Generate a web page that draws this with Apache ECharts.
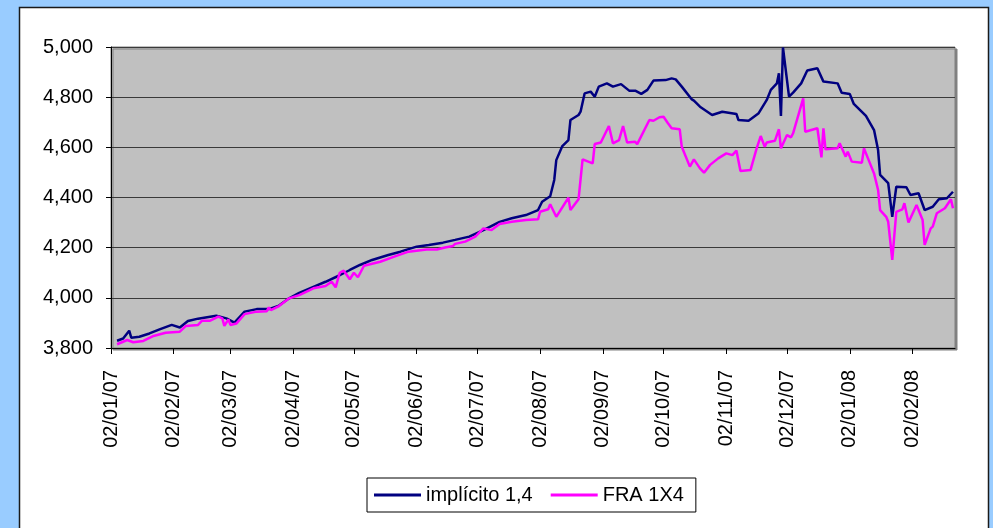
<!DOCTYPE html>
<html>
<head>
<meta charset="utf-8">
<script src="https://cdn.jsdelivr.net/npm/echarts@6/dist/echarts.min.js"></script>
<style>
  html, body { margin: 0; padding: 0; background: #99CCFF; }
  #chart { width: 993px; height: 528px; }
</style>
</head>
<body>
<div id="chart"></div>
<script>
// month ticks on the x axis (02/MM/YY)
var monthTicks = ['2007-01-02','2007-02-02','2007-03-02','2007-04-02','2007-05-02','2007-06-02',
	'2007-07-02','2007-08-02','2007-09-02','2007-10-02','2007-11-02','2007-12-02','2008-01-02','2008-02-02'];
var xStart = '2007-01-02';
var xEnd = '2008-02-23';

// implícito 1,4
var implicitoDates = ['2007-01-05','2007-01-08','2007-01-11','2007-01-12','2007-01-16','2007-01-21','2007-01-26',
	'2007-02-01','2007-02-05','2007-02-09','2007-02-14','2007-02-23','2007-02-28','2007-03-04','2007-03-09',
	'2007-03-15','2007-03-21','2007-03-26','2007-03-31','2007-04-05','2007-04-12','2007-04-18','2007-04-25',
	'2007-04-30','2007-05-05','2007-05-11','2007-05-19','2007-05-25','2007-06-02','2007-06-08','2007-06-15',
	'2007-06-21','2007-06-28','2007-07-05','2007-07-13','2007-07-19','2007-07-26','2007-08-01','2007-08-03',
	'2007-08-07','2007-08-09','2007-08-10','2007-08-13','2007-08-16','2007-08-17','2007-08-21','2007-08-22',
	'2007-08-24','2007-08-27','2007-08-29','2007-08-31','2007-09-04','2007-09-07','2007-09-11','2007-09-15',
	'2007-09-18','2007-09-21','2007-09-24','2007-09-27','2007-10-03','2007-10-06','2007-10-08','2007-10-11',
	'2007-10-16','2007-10-17','2007-10-20','2007-10-26','2007-10-31','2007-11-07','2007-11-08','2007-11-13',
	'2007-11-18','2007-11-22','2007-11-24','2007-11-27','2007-11-28','2007-11-29','2007-11-30','2007-12-03',
	'2007-12-05','2007-12-09','2007-12-12','2007-12-17','2007-12-20','2007-12-27','2007-12-29','2008-01-02',
	'2008-01-04','2008-01-10','2008-01-14','2008-01-16','2008-01-17','2008-01-21','2008-01-23','2008-01-25',
	'2008-01-30','2008-02-01','2008-02-05','2008-02-08','2008-02-12','2008-02-15','2008-02-19','2008-02-22'];
var implicitoValues = [3829,3838,3869,3841,3845,3858,3874,
	3892,3882,3908,3917,3929,3918,3901,3945,
	3955,3955,3969,3998,4020,4044,4064,4090,
	4111,4131,4151,4171,4184,4204,4211,4220,
	4231,4244,4270,4303,4317,4330,4350,4383,
	4405,4470,4549,4605,4629,4709,4729,4742,
	4815,4822,4802,4842,4855,4842,4852,4826,
	4826,4813,4829,4866,4868,4875,4871,4842,
	4791,4786,4762,4729,4742,4733,4709,4706,
	4736,4789,4829,4855,4895,4725,4998,4802,
	4818,4855,4906,4915,4862,4855,4818,4813,
	4773,4725,4669,4589,4490,4457,4323,4443,
	4441,4410,4417,4350,4363,4393,4397,4423];

// FRA 1X4
var fraDates = ['2007-01-05','2007-01-10','2007-01-13','2007-01-18','2007-01-23','2007-01-29','2007-02-05',
	'2007-02-08','2007-02-14','2007-02-16','2007-02-20','2007-02-24','2007-02-26','2007-02-27','2007-03-01',
	'2007-03-02','2007-03-05','2007-03-09','2007-03-15','2007-03-20','2007-03-21','2007-03-22','2007-03-26',
	'2007-03-31','2007-04-05','2007-04-12','2007-04-18','2007-04-21','2007-04-23','2007-04-25','2007-04-27',
	'2007-04-30','2007-05-02','2007-05-04','2007-05-07','2007-05-15','2007-05-23','2007-05-29','2007-06-07',
	'2007-06-12','2007-06-16','2007-06-20','2007-06-21','2007-06-26','2007-07-01','2007-07-05','2007-07-09',
	'2007-07-13','2007-07-19','2007-07-26','2007-08-01','2007-08-02','2007-08-06','2007-08-07','2007-08-10',
	'2007-08-16','2007-08-17','2007-08-21','2007-08-23','2007-08-28','2007-08-29','2007-09-01','2007-09-05',
	'2007-09-07','2007-09-10','2007-09-12','2007-09-14','2007-09-18','2007-09-19','2007-09-25','2007-09-27',
	'2007-09-30','2007-10-02','2007-10-04','2007-10-06','2007-10-10','2007-10-11','2007-10-15','2007-10-17',
	'2007-10-20','2007-10-22','2007-10-25','2007-10-29','2007-11-02','2007-11-05','2007-11-07','2007-11-09',
	'2007-11-14','2007-11-17','2007-11-19','2007-11-21','2007-11-22','2007-11-26','2007-11-28','2007-11-29',
	'2007-12-02','2007-12-04','2007-12-05','2007-12-10','2007-12-11','2007-12-17','2007-12-19','2007-12-20',
	'2007-12-21','2007-12-27','2007-12-28','2007-12-31','2008-01-01','2008-01-03','2008-01-08','2008-01-09',
	'2008-01-12','2008-01-14','2008-01-16','2008-01-17','2008-01-20','2008-01-21','2008-01-23','2008-01-25',
	'2008-01-28','2008-01-29','2008-01-31','2008-02-04','2008-02-07','2008-02-08','2008-02-11','2008-02-12',
	'2008-02-14','2008-02-18','2008-02-21','2008-02-22'];
var fraValues = [3815,3832,3823,3828,3848,3861,3865,
	3888,3892,3909,3909,3925,3918,3888,3914,
	3892,3898,3935,3945,3947,3962,3951,3967,
	3998,4011,4038,4047,4064,4042,4100,4108,
	4074,4100,4082,4128,4144,4167,4184,4193,
	4193,4201,4207,4215,4224,4244,4277,4270,
	4294,4303,4310,4313,4343,4353,4373,4323,
	4399,4350,4393,4552,4536,4613,4619,4685,
	4616,4629,4685,4619,4622,4613,4709,4706,
	4720,4722,4698,4676,4672,4602,4523,4552,
	4516,4499,4530,4556,4576,4569,4587,4506,
	4510,4596,4645,4602,4619,4626,4672,4596,
	4649,4640,4656,4795,4662,4676,4560,4676,
	4592,4596,4616,4563,4583,4543,4539,4596,
	4536,4496,4430,4350,4323,4303,4151,4343,
	4353,4377,4300,4370,4310,4211,4277,4284,
	4337,4357,4393,4357];

// 'YYYY-MM-DD' -> timestamp (local time)
function toTime(s){
	var p = s.split('-');
	return new Date(+p[0], +p[1]-1, +p[2]).getTime();
}

function zip(dates, values){
	var out = [];
	for(var i=0;i<dates.length;i++){
		out.push([toTime(dates[i]), values[i]]);
	}
	return out;
}

function pad2(n){ return (n<10?'0':'')+n; }

var font = '"Liberation Sans", Arial, sans-serif';
var tickTimes = monthTicks.map(toTime);
var myChart = echarts.init(document.getElementById('chart'));

var option = {
	animation: false,
	backgroundColor: '#99CCFF',
	graphic: [{
		type: 'rect',
		z: -10,
		silent: true,
		shape: { x: 19.5, y: 7.5, width: 969, height: 530 },
		style: { fill: '#ffffff', stroke: '#1a1a1a', lineWidth: 1.5 }
	}],
	grid: {
		left: 111, top: 47, right: 38, bottom: 180,
		show: true,
		backgroundColor: '#C0C0C0',
		borderColor: '#808080',
		borderWidth: 1,
		shadowColor: '#808080',
		shadowOffsetX: 2,
		shadowOffsetY: 2,
		shadowBlur: 0
	},
	legend: {
		left: 367, top: 478,
		padding: [7, 12, 7, 7],
		itemGap: 18,
		itemWidth: 47,
		itemHeight: 3,
		icon: 'rect',
		borderColor: '#000',
		borderWidth: 1,
		backgroundColor: '#fff',
		textStyle: { fontFamily: font, fontSize: 20, color: '#000' },
		data: ['implícito 1,4', 'FRA 1X4']
	},
	xAxis: {
		type: 'value',
		min: toTime(xStart),
		max: toTime(xEnd),
		axisLine: { lineStyle: { color: '#000', width: 1 } },
		axisTick: { show: true, length: 6, customValues: tickTimes, lineStyle: { color: '#000' } },
		splitLine: { show: false },
		axisLabel: {
			customValues: tickTimes,
			rotate: 90,
			margin: 22,
			fontFamily: font,
			fontSize: 20,
			color: '#000',
			formatter: function(v){
				var d = new Date(v);
				return pad2(d.getDate()) + '/' + pad2(d.getMonth()+1) + '/' + pad2(d.getFullYear() % 100);
			}
		}
	},
	yAxis: {
		type: 'value',
		min: 3800,
		max: 5000,
		interval: 200,
		axisLine: { show: true, lineStyle: { color: '#000', width: 1 } },
		axisTick: { show: true, length: 5, lineStyle: { color: '#000' } },
		splitLine: { lineStyle: { color: '#3a3a3a', width: 1.2 } },
		axisLabel: {
			margin: 18,
			fontFamily: font,
			fontSize: 20,
			color: '#000',
			formatter: function(v){ return v.toLocaleString('en-US'); }
		}
	},
	series: [{
		name: 'implícito 1,4',
		type: 'line',
		showSymbol: false,
		color: '#000080',
		lineStyle: { color: '#000080', width: 2.5 },
		data: zip(implicitoDates, implicitoValues)
	}, {
		name: 'FRA 1X4',
		type: 'line',
		showSymbol: false,
		color: '#FF00FF',
		lineStyle: { color: '#FF00FF', width: 2.5 },
		data: zip(fraDates, fraValues)
	}]
};

myChart.setOption(option);
</script>
</body>
</html>
